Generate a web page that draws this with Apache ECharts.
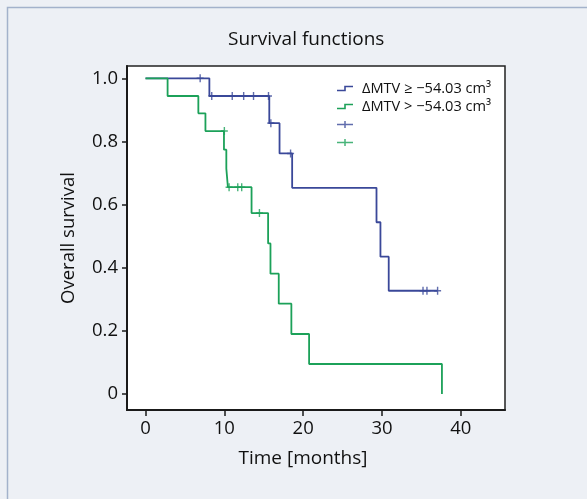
<!DOCTYPE html>
<html><head><meta charset="utf-8">
<script src="https://cdn.jsdelivr.net/npm/echarts@6/dist/echarts.min.js"></script>
<style>html,body{margin:0;padding:0;background:#edf0f5}#c{width:587px;height:499px}</style>
</head><body><div id="c"></div><script>
const titleText = 'Survival functions';
const xAxisName = 'Time [months]';
const yAxisName = 'Overall survival';
const groupNames = ['ΔMTV ≥ −54.03 cm³', 'ΔMTV > −54.03 cm³'];
const censorNames = [' ', '  '];
const xTicks = [0, 10, 20, 30, 40];
const yTicks = [0, 0.2, 0.4, 0.6, 0.8, 1.0];
const blueTimes = [0, 8.1, 15.7, 17.0, 18.6, 29.3, 29.8, 30.85, 37.05];
const blueSurv = [1, 0.944, 0.858, 0.762, 0.653, 0.544, 0.435, 0.327, 0.327];
const blueCensorTimes = [6.93, 8.4, 11.0, 12.45, 13.7, 15.6, 15.9, 18.4, 35.2, 35.7, 37.05];
const blueCensorSurv = [1, 0.944, 0.944, 0.944, 0.944, 0.944, 0.858, 0.762, 0.327, 0.327, 0.327];
const greenTimes = [0, 2.8, 6.7, 7.6, 9.95, 10.25, 10.45, 13.45, 15.55, 15.85, 16.9, 18.5, 20.75, 37.6];
const greenSurv = [1, 0.944, 0.889, 0.833, 0.774, 0.714, 0.655, 0.573, 0.477, 0.381, 0.286, 0.190, 0.095, 0];
const greenCensorTimes = [10.0, 10.6, 11.7, 12.2, 14.45];
const greenCensorSurv = [0.833, 0.655, 0.655, 0.655, 0.573];

const FONT = 'Open Sans';
const BLUE = '#3a4899';
const GREEN = '#1ca159';
const zip = (a, b) => a.map((v, i) => [v, b[i]]);
const censorSym = 'path://M0,4 H4 V0 H6 V4 H10 V6 H6 V10 H4 V6 H0 Z';
const stepPath = 'path://M0,5.5 H7.2 V1.5 H16 V3 H8.8 V7 H0 Z';
const legendPlus = 'path://M0,2.75 H7.25 V0 H8.75 V2.75 H16 V4.25 H8.75 V7 H7.25 V4.25 H0 Z';

const chart = echarts.init(document.getElementById('c'), null, {renderer: 'canvas'});
chart.setOption({
  backgroundColor: '#edf0f5',
  animation: false,
  textStyle: {fontFamily: FONT},
  title: {
    text: titleText, left: 228, top: 30, padding: 0,
    textStyle: {fontFamily: FONT, fontSize: 19, fontWeight: 'normal', color: '#111'}
  },
  graphic: [{
    type: 'rect', left: 5, top: 5, z: -10, silent: true,
    shape: {width: 640, height: 640},
    style: {fill: 'none', stroke: '#a3b2cb', lineWidth: 1.5}
  }],
  legend: {
    orient: 'vertical', left: 337, top: 81, padding: 0,
    itemWidth: 16, itemHeight: 7, itemGap: 3,
    textStyle: {fontFamily: FONT, fontSize: 14.6, lineHeight: 14, color: '#111', padding: [0, 0, 0, 4]},
    data: [
      {name: groupNames[0], icon: stepPath},
      {name: groupNames[1], icon: stepPath},
      {name: censorNames[0], icon: legendPlus},
      {name: censorNames[1], icon: legendPlus}
    ]
  },
  grid: {
    left: 127, right: 82, top: 66, bottom: 89,
    show: true, backgroundColor: '#ffffff', borderColor: '#222', borderWidth: 1.5
  },
  xAxis: {
    type: 'value', min: -2.35, max: 45.6,
    name: xAxisName, nameLocation: 'middle', nameGap: 39,
    nameTextStyle: {fontFamily: FONT, fontSize: 19, color: '#111', padding: [0, 26, 0, 0]},
    splitLine: {show: false},
    axisLine: {onZero: false, lineStyle: {color: '#1a1a1a', width: 2}},
    axisTick: {customValues: xTicks, length: 6, lineStyle: {color: '#1a1a1a', width: 1.5}},
    axisLabel: {customValues: xTicks, fontSize: 18.5, margin: 9, color: '#111', fontFamily: FONT}
  },
  yAxis: {
    type: 'value', min: -0.0507, max: 1.039,
    name: yAxisName, nameLocation: 'middle', nameGap: 49,
    nameTextStyle: {fontFamily: FONT, fontSize: 18.5, color: '#111'},
    splitLine: {show: false},
    axisLine: {onZero: false, lineStyle: {color: '#1a1a1a', width: 2}},
    axisTick: {customValues: yTicks, length: 5, lineStyle: {color: '#1a1a1a', width: 1.5}},
    axisLabel: {customValues: yTicks, fontSize: 18.5, margin: 9, color: '#111', fontFamily: FONT,
      formatter: v => (v === 0 ? '0' : v.toFixed(1))}
  },
  series: [
    {name: groupNames[0], type: 'line', step: 'end', showSymbol: false, symbol: 'none',
     data: zip(blueTimes, blueSurv), color: BLUE, lineStyle: {color: BLUE, width: 1.8}, z: 2},
    {name: censorNames[0], type: 'scatter', symbol: censorSym, symbolSize: [7, 8],
     data: zip(blueCensorTimes, blueCensorSurv), itemStyle: {color: BLUE}, z: 3},
    {name: groupNames[1], type: 'line', step: 'end', showSymbol: false, symbol: 'none',
     data: zip(greenTimes, greenSurv), color: GREEN, lineStyle: {color: GREEN, width: 1.8}, z: 4},
    {name: censorNames[1], type: 'scatter', symbol: censorSym, symbolSize: [7, 8],
     data: zip(greenCensorTimes, greenCensorSurv), itemStyle: {color: GREEN}, z: 5}
  ]
});
</script></body></html>
